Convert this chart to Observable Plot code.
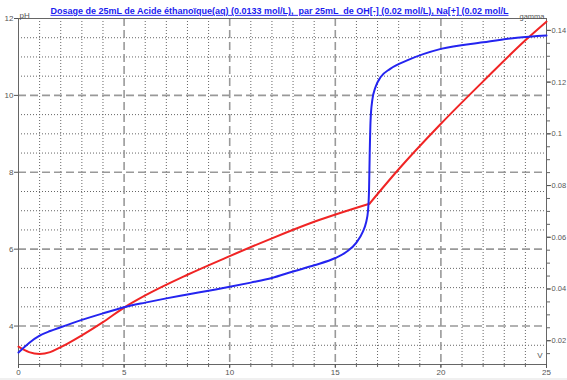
<!DOCTYPE html>
<html><head><meta charset="utf-8">
<script src="https://cdn.jsdelivr.net/npm/d3@7"></script>
<script src="https://cdn.jsdelivr.net/npm/@observablehq/plot@0.6"></script>
<style>
html,body{margin:0;padding:0;background:#f0f0f0;}
#chart{width:567px;height:380px;overflow:hidden;}
#chart svg{display:block;background:#fff;}
</style></head><body><div id="chart"></div>
<script>
const title = "Dosage de 25mL de Acide éthanoïque(aq) (0.0133 mol/L),  par 25mL  de OH[-] (0.02 mol/L), Na[+] (0.02 mol/L";

// pH curve (blue)
const volumePH = [0, 0.5, 1, 1.5, 2, 3, 4, 5, 6, 7, 8, 9, 10, 11, 12, 13, 14, 15, 15.5, 16, 16.3, 16.45, 16.55, 16.6, 16.63, 16.67, 16.75, 16.9, 17.14, 17.6, 18.4, 20, 22, 23.6, 25];
const pHValues = [3.31, 3.56, 3.75, 3.87, 3.97, 4.16, 4.33, 4.49, 4.61, 4.72, 4.82, 4.92, 5.02, 5.13, 5.25, 5.42, 5.58, 5.77, 5.92, 6.17, 6.45, 6.68, 7.0, 7.6, 8.5, 9.35, 9.87, 10.21, 10.47, 10.69, 10.91, 11.21, 11.38, 11.50, 11.56];

// conductivity curve (red), gamma
const volumeG = [0, 0.5, 1, 1.5, 2, 3, 4, 5, 6, 8, 10, 12, 14, 16.62, 18, 20, 22, 24, 25];
const gammaValues = [0.0177, 0.0156, 0.0149, 0.0156, 0.0175, 0.0221, 0.0272, 0.0328, 0.0375, 0.0455, 0.0527, 0.0596, 0.0660, 0.0730, 0.0863, 0.1039, 0.1203, 0.1362, 0.1434];
const equivalenceV = 16.62;

const vTicks = [0, 5, 10, 15, 20, 25];
const pHTicks = [4, 6, 8, 10, 12];
const gammaTicks = [0.02, 0.04, 0.06, 0.08, 0.1, 0.12, 0.14];

const vDomain = [0, 25];
const pHDomain = [3, 12];
const gammaDomain = [0.0108, 0.1446];

// map gamma onto the pH scale (secondary axis)
const g2y = g => pHDomain[0] + (g - gammaDomain[0]) / (gammaDomain[1] - gammaDomain[0]) * (pHDomain[1] - pHDomain[0]);
const y2g = y => gammaDomain[0] + (y - pHDomain[0]) / (pHDomain[1] - pHDomain[0]) * (gammaDomain[1] - gammaDomain[0]);

const blue = volumePH.map((v, i) => ({v, y: pHValues[i]}));
const red = volumeG.map((v, i) => ({v, y: g2y(gammaValues[i])}));
const redBefore = red.filter(d => d.v <= equivalenceV);
const redAfter = red.filter(d => d.v >= equivalenceV);

const majorV = [5, 10, 15, 20];
const minorV = d3.range(1, 25).filter(d => d % 5 !== 0);
const majorY = [4, 6, 8, 10];
const minorY = d3.range(3.5, 12, 0.5).filter(d => !majorY.includes(d));
const minorGamma = d3.range(0.015, 0.1441, 0.005).map(g2y);

const dotted = {stroke: "#666", strokeWidth: 1, strokeDasharray: "1,2"};
const dashed = {stroke: "#999", strokeWidth: 1.6, strokeDasharray: "8,4"};
const redStyle = {x: "v", y: "y", stroke: "#f02424", strokeWidth: 2, curve: "monotone-x"};

const plot = Plot.plot({
  width: 567,
  height: 378,
  marginLeft: 18,
  marginRight: 21,
  marginTop: 18,
  marginBottom: 14,
  style: {fontFamily: "'Liberation Sans', sans-serif", fontSize: "8px", background: "#fff"},
  x: {domain: vDomain},
  y: {domain: pHDomain},
  marks: [
    Plot.ruleX(minorV, dotted),
    Plot.ruleY(minorY, dotted),
    Plot.ruleX(majorV, dashed),
    Plot.ruleY(majorY, dashed),
    Plot.frame({stroke: "#666"}),
    Plot.axisX(d3.range(0, 26), {tickSize: 3, tickFormat: () => "", label: null, color: "#666"}),
    Plot.axisX(vTicks, {tickSize: 4, tickPadding: 1, label: null, color: "#555"}),
    Plot.axisY(pHTicks, {anchor: "left", tickSize: 4, tickPadding: 1, label: null, color: "#555"}),
    Plot.axisY(minorGamma, {anchor: "right", tickSize: 3, tickFormat: () => "", label: null, color: "#666"}),
    Plot.axisY(gammaTicks.map(g2y), {anchor: "right", tickSize: 4, tickPadding: 1, label: null, color: "#555",
      fontSize: 7.5, tickFormat: d => String(+y2g(d).toFixed(3))}),
    Plot.line(redBefore, redStyle),
    Plot.line(redAfter, redStyle),
    Plot.line(blue, {x: "v", y: "y", stroke: "#2424f0", strokeWidth: 2, curve: "monotone-x"}),
    Plot.text(["pH"], {text: d => d, frameAnchor: "top-left", dx: 1, dy: -6, textAnchor: "start", fill: "#555", fontSize: 8}),
    Plot.text(["gamma"], {text: d => d, frameAnchor: "top-right", dx: -2, dy: -5, textAnchor: "end", fill: "#555", fontSize: 7.5}),
    Plot.text(["V"], {text: d => d, frameAnchor: "bottom-right", dx: -4, dy: -7, textAnchor: "end", fill: "#555", fontSize: 8}),
    Plot.text([title], {text: d => d, frameAnchor: "top", dx: -3, dy: -11, textAnchor: "middle", fill: "#1c1cf0",
      fontWeight: "bold", fontSize: 9, fontFamily: "'Liberation Sans', sans-serif", className: "title"})
  ]
});
document.getElementById("chart").appendChild(plot);
const t = plot.querySelector("g.title text, .title text");
if (t) {
  t.setAttribute("textLength", 458);
  t.setAttribute("lengthAdjust", "spacingAndGlyphs");
  t.style.textDecoration = "underline";
  t.style.whiteSpace = "pre";
}
</script></body></html>
